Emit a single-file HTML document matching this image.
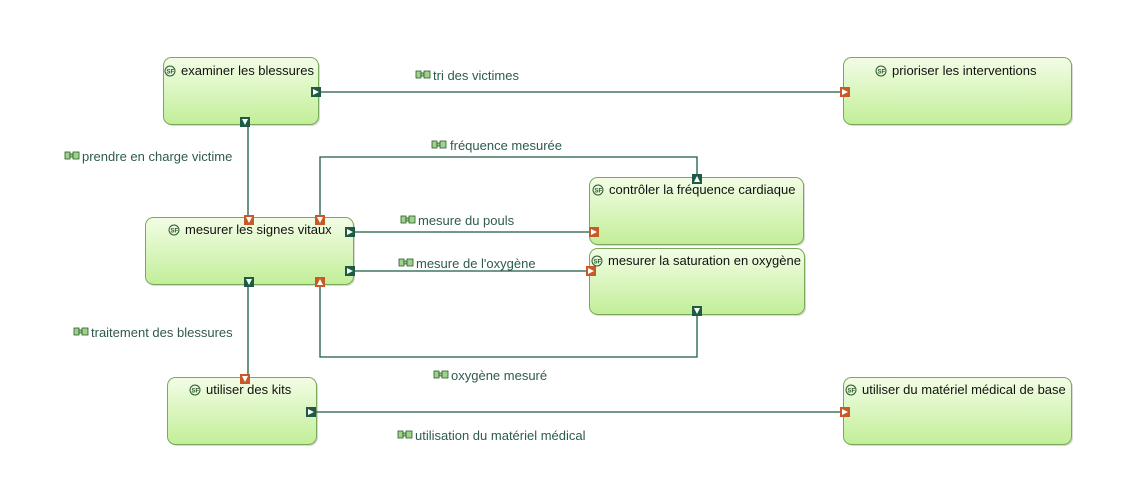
<!DOCTYPE html>
<html><head><meta charset="utf-8"><style>
body{margin:0;background:#fff;width:1130px;height:476px;overflow:hidden}
text{font-family:"Liberation Sans",sans-serif;font-size:13px}
.t{fill:#111}
.l{fill:#2f5a50}
</style></head><body>
<svg width="1130" height="476" viewBox="0 0 1130 476" xmlns="http://www.w3.org/2000/svg">
<defs>
<linearGradient id="g" x1="0" y1="0" x2="0" y2="1">
<stop offset="0" stop-color="#f3fde6"/><stop offset="1" stop-color="#c2ee98"/>
</linearGradient>
<g id="sf"><circle cx="0" cy="0" r="5" fill="#e8f5dd" stroke="#2a5a2a" stroke-width="1"/><text x="-3.5" y="2.5" style="font-size:6px;font-weight:bold" fill="#2a5a2a">SF</text></g>
<g id="lab"><rect x="0" y="-4" width="5" height="7" fill="#9ed28a" stroke="#2a5a2a" stroke-width="0.8"/><rect x="5" y="-2" width="3" height="3" fill="#9ed28a" stroke="#2a5a2a" stroke-width="0.8"/><rect x="8" y="-4" width="6" height="7" fill="#9ed28a" stroke="#2a5a2a" stroke-width="0.8"/></g>
</defs>
<g fill="#d8dcd4">
<rect x="165" y="59" width="155" height="67" rx="8"/>
<rect x="845" y="59" width="228" height="67" rx="8"/>
<rect x="147" y="219" width="208" height="67" rx="8"/>
<rect x="591" y="179" width="214" height="67" rx="8"/>
<rect x="591" y="250" width="215" height="66" rx="8"/>
<rect x="169" y="379" width="149" height="67" rx="8"/>
<rect x="845" y="379" width="228" height="67" rx="8"/>
</g>
<g fill="url(#g)" stroke="#7aa85a" stroke-width="1">
<rect x="163.5" y="57.5" width="155" height="67" rx="8"/>
<rect x="843.5" y="57.5" width="228" height="67" rx="8"/>
<rect x="145.5" y="217.5" width="208" height="67" rx="8"/>
<rect x="589.5" y="177.5" width="214" height="67" rx="8"/>
<rect x="589.5" y="248.5" width="215" height="66" rx="8"/>
<rect x="167.5" y="377.5" width="149" height="67" rx="8"/>
<rect x="843.5" y="377.5" width="228" height="67" rx="8"/>
</g>
<g fill="none" stroke="#1f5a45" stroke-width="1.3">
<path d="M318 92H845"/>
<path d="M248 124V217"/>
<path d="M320 217V157H697V177"/>
<path d="M353 232H591"/>
<path d="M353 271H591"/>
<path d="M697 314V357H320V284"/>
<path d="M248 284V377"/>
<path d="M316 412H845"/>
</g>
<g stroke-width="1">
<g fill="#1f5a45"><rect x="311" y="87" width="10" height="10"/><rect x="240" y="117" width="10" height="10"/><rect x="692" y="174" width="10" height="10"/><rect x="345" y="227" width="10" height="10"/><rect x="345" y="266" width="10" height="10"/><rect x="692" y="306" width="10" height="10"/><rect x="244" y="277" width="10" height="10"/><rect x="306" y="407" width="10" height="10"/></g>
<g fill="#c85a28"><rect x="840" y="87" width="10" height="10"/><rect x="244" y="215" width="10" height="10"/><rect x="315" y="215" width="10" height="10"/><rect x="589" y="227" width="10" height="10"/><rect x="586" y="266" width="10" height="10"/><rect x="315" y="277" width="10" height="10"/><rect x="240" y="374" width="10" height="10"/><rect x="840" y="407" width="10" height="10"/></g>
<g fill="#fff">
<path d="M313 89L319 92L313 95Z"/><path d="M242 119L248 119L245 125Z"/><path d="M694 182L697 176L700 182Z"/>
<path d="M347 229L353 232L347 235Z"/><path d="M347 268L353 271L347 274Z"/><path d="M694 308L700 308L697 314Z"/>
<path d="M246 279L252 279L249 285Z"/><path d="M308 409L314 412L308 415Z"/>
<path d="M842 89L848 92L842 95Z"/><path d="M246 217L252 217L249 223Z"/><path d="M317 217L323 217L320 223Z"/>
<path d="M591 229L597 232L591 235Z"/><path d="M588 268L594 271L588 274Z"/><path d="M317 285L320 279L323 285Z"/>
<path d="M242 376L248 376L245 382Z"/><path d="M842 409L848 412L842 415Z"/>
</g></g>
<use href="#sf" x="170" y="71"/><text class="t" x="181" y="75">examiner les blessures</text>
<use href="#sf" x="881" y="71"/><text class="t" x="892" y="75">prioriser les interventions</text>
<use href="#sf" x="174" y="230"/><text class="t" x="185" y="234">mesurer les signes vitaux</text>
<use href="#sf" x="598" y="190"/><text class="t" x="609" y="194">contrôler la fréquence cardiaque</text>
<use href="#sf" x="597" y="261"/><text class="t" x="608" y="265">mesurer la saturation en oxygène</text>
<use href="#sf" x="195" y="390"/><text class="t" x="206" y="394">utiliser des kits</text>
<use href="#sf" x="851" y="390"/><text class="t" x="862" y="394">utiliser du matériel médical de base</text>
<use href="#lab" x="416" y="75"/><text class="l" x="433" y="80">tri des victimes</text>
<use href="#lab" x="65" y="156"/><text class="l" x="82" y="161">prendre en charge victime</text>
<use href="#lab" x="432" y="145"/><text class="l" x="450" y="150">fréquence mesurée</text>
<use href="#lab" x="401" y="220"/><text class="l" x="418" y="225">mesure du pouls</text>
<use href="#lab" x="399" y="263"/><text class="l" x="416" y="268">mesure de l'oxygène</text>
<use href="#lab" x="74" y="332"/><text class="l" x="91" y="337">traitement des blessures</text>
<use href="#lab" x="434" y="375"/><text class="l" x="451" y="380">oxygène mesuré</text>
<use href="#lab" x="398" y="435"/><text class="l" x="415" y="440">utilisation du matériel médical</text>
</svg>
</body></html>
